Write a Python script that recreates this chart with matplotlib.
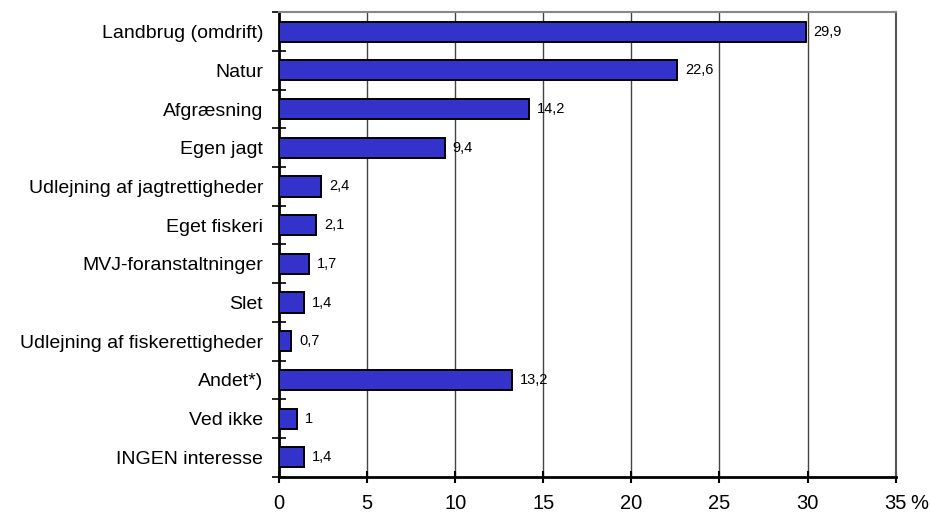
import matplotlib
matplotlib.use("Agg")
import matplotlib.pyplot as plt
import numpy as np

categories = ["Landbrug (omdrift)", "Natur", "Afgræsning", "Egen jagt",
              "Udlejning af jagtrettigheder", "Eget fiskeri", "MVJ-foranstaltninger",
              "Slet", "Udlejning af fiskerettigheder", "Andet*)", "Ved ikke",
              "INGEN interesse"]
values = [29.9, 22.6, 14.2, 9.4, 2.4, 2.1, 1.7, 1.4, 0.7, 13.2, 1, 1.4]
value_labels = ["29,9", "22,6", "14,2", "9,4", "2,4", "2,1", "1,7", "1,4", "0,7", "13,2", "1", "1,4"]
xticks = [0, 5, 10, 15, 20, 25, 30, 35]

plt.rcParams['font.family'] = ['Liberation Sans', 'DejaVu Sans']

fig = plt.figure(figsize=(9.3, 5.15), dpi=100)
ax = fig.add_axes([0.300, 0.0744, 0.663, 0.9017])

n = len(categories)
y = np.arange(n)
ax.barh(y, values, height=0.52, color="#3333CC", edgecolor="black", linewidth=1.4, zorder=3)
for yi, v, lab in zip(y, values, value_labels):
    ax.text(v + 0.45, yi, lab, va="center", ha="left", fontsize=10.5, zorder=4)

ax.set_xlim(0, 35)
ax.set_ylim(n - 0.5, -0.5)
ax.set_xticks(xticks)
ax.set_xticklabels([str(t) for t in xticks], fontsize=14.5)
ax.tick_params(axis="x", direction="inout", length=9, width=1.5, pad=8)
ax.annotate("%", xy=(35, n - 0.5), xycoords="data", xytext=(10.4, -12.5),
            textcoords="offset points", fontsize=14.5, va="top", ha="left")

ax.set_yticks(y)
ax.set_yticklabels(categories, fontsize=14)
ax.tick_params(axis="y", length=0, pad=11.5)
ax.set_yticks(np.arange(n + 1) - 0.5, minor=True)
ax.tick_params(axis="y", which="minor", direction="inout", length=9.5, width=1.2)

for t in xticks[1:-1]:
    ax.axvline(t, color="#444444", linewidth=1.0, zorder=1)

ax.spines["left"].set_linewidth(2)
ax.spines["bottom"].set_linewidth(2)
ax.spines["top"].set_color("#888888")
ax.spines["top"].set_linewidth(1.5)
ax.spines["right"].set_color("#555555")
ax.spines["right"].set_linewidth(1.5)

fig.savefig("out.png", dpi=100)
